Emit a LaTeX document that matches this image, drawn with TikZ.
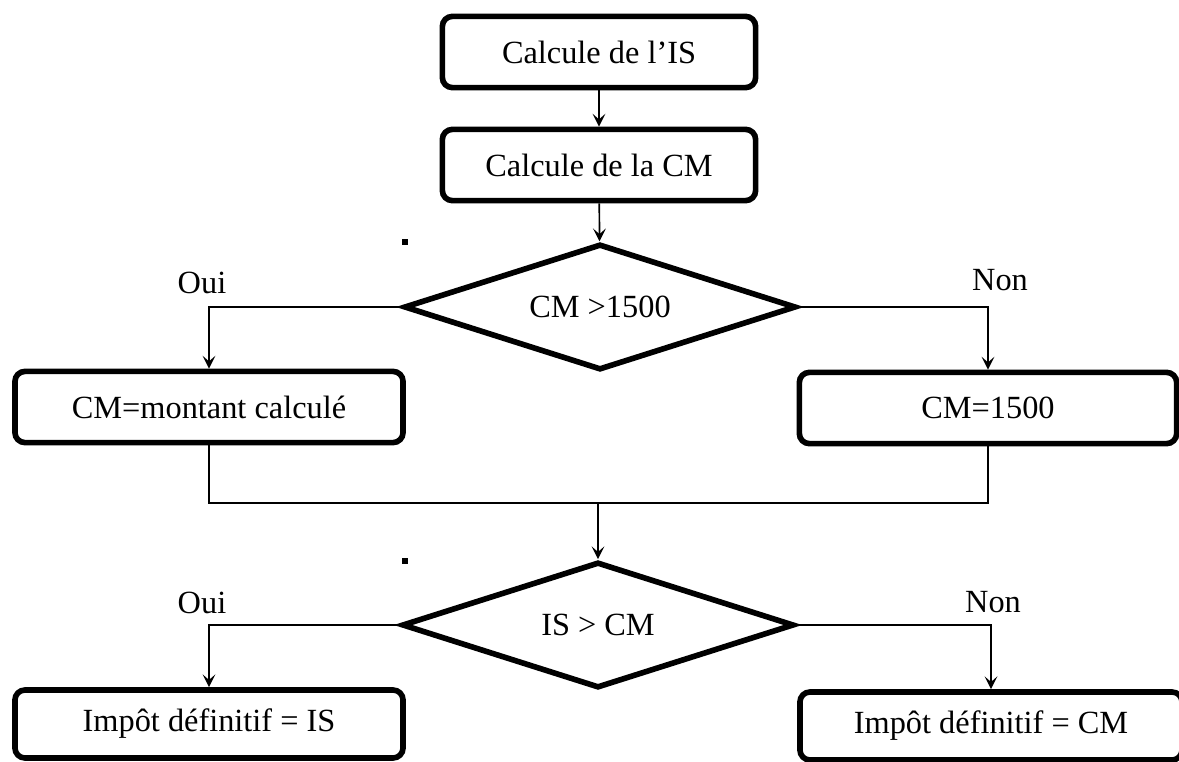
\documentclass[tikz,border=0pt]{standalone}
\usepackage{fontspec}
\setmainfont{Liberation Serif}
\usetikzlibrary{shapes.geometric,arrows.meta,positioning,calc}

\begin{document}
\begin{tikzpicture}[x=0.025cm,y=-0.025cm,
    every node/.style={font=\fontsize{23}{27}\selectfont},
    box/.style={draw,line width=4pt,rounded corners=0.25cm,minimum height=1.78cm},
    choix/.style={draw,diamond,aspect=3,line width=4pt,minimum width=9.8cm,minimum height=3.15cm,inner sep=0pt},
    fleche/.style={line width=1.2pt,-{Stealth[length=0.32cm,width=0.32cm,inset=0.14cm]}},
    trait/.style={line width=1.2pt}]

            % Fix the page size
            \useasboundingbox (0,0) rectangle (1179,762);

            % Steps and tests
            \node[box,minimum width=7.83cm] (is) at (599,52) {Calcule de l’IS};
            \node[box,minimum width=7.83cm] (cm) at (599,165) {Calcule de la CM};
            \node[choix] (test1) at (600,307) {CM >1500};
            \node[box,minimum width=9.7cm] (cmcalc) at (209,407) {CM=montant calculé};
            \node[box,minimum width=9.43cm] (cmfixe) at (988,408) {CM=1500};
            \node[choix] (test2) at (598,625) {IS > CM};
            \node[box,minimum width=9.7cm,minimum height=1.7cm] (impis) at (209,724) {Impôt définitif = IS};
            \node[box,minimum width=9.55cm,minimum height=1.7cm] (impcm) at (991,726) {Impôt définitif = CM};

            % Labels of the branches
            \node (oui1) at (202,283) {Oui};
            \node (non1) at (1000,280) {Non};
            \node (oui2) at (202,603) {Oui};
            \node (non2) at (993,602) {Non};

            % Small marks
            \fill (402,239) rectangle (408,245);
            \fill (402,558) rectangle (408,564);

            \coordinate (jonction) at (598,503);

            \draw[fleche] (is) -- (cm);
            \draw[fleche] (cm) -- (test1);
            \draw[fleche] (test1.west) -| (cmcalc.north);
            \draw[fleche] (test1.east) -| (cmfixe.north);
            \draw[trait] (cmcalc.south) |- (jonction);
            \draw[trait] (cmfixe.south) |- (jonction);
            \draw[fleche] (jonction) -- (test2.north);
            \draw[fleche] (test2.west) -| (impis.north);
            \draw[fleche] (test2.east) -| (impcm.north);

\end{tikzpicture}
\end{document}
